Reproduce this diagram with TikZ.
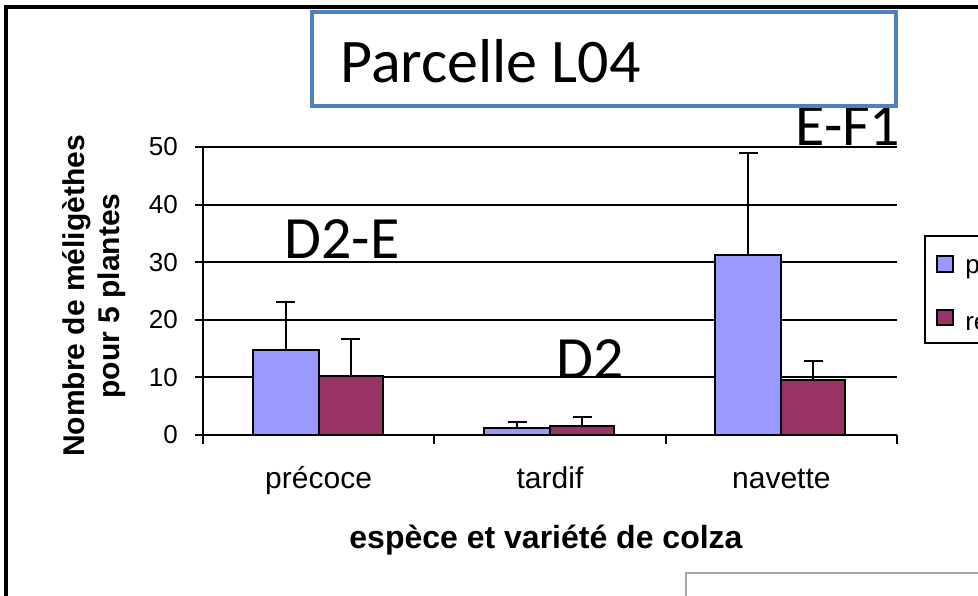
\documentclass[tikz,border=0pt]{standalone}
\usepackage{fontspec}
\setmainfont{Liberation Sans}
\newfontfamily\calibri{Carlito}
\definecolor{serieA}{HTML}{9999FF}
\definecolor{serieB}{HTML}{993366}
\definecolor{cadre}{HTML}{4F81BD}

\begin{document}
\begin{tikzpicture}[x=0.75pt,y=-0.75pt,
	trait/.style={line width=1.5pt},
	barre/.style={draw=black,line width=1.5pt},
	grosmot/.style={font=\calibri\fontsize{45}{50}\selectfont,inner sep=0pt,anchor=base},
	axelab/.style={font=\fontsize{19.5}{23}\selectfont,inner sep=0pt}]
\useasboundingbox (0,0) rectangle (978,596);
\draw[line width=3pt] (5.5,620) -- (5.5,7) -- (990,7);

% graphique : origine en (203,435), 10 unites = 57.6 px
\begin{scope}[shift={(203,435)},x=0.75pt,y=4.32pt]
\foreach \v in {10,20,...,50}
	\draw[trait] (-8,\v) -- (694,\v);
\foreach \v in {0,10,...,50}
	\node[axelab,anchor=east] (tick\v) at (-25,\v) {\v};
\draw[trait] (0,50) -- (0,0);
\draw[trait] (-8,0) -- (694,0);
\foreach \i in {0,1,2,3}
	\draw[trait] (231.3*\i,0) -- (231.3*\i,-1.5);
\foreach \c/\a/\ea/\b/\eb in {115.6/14.8/23.1/10.2/16.7, 347/1.3/2.2/1.6/3.2, 578.4/31.3/48.9/9.5/12.8}
{
	\filldraw[barre,fill=serieA] (\c-66,0) rectangle (\c,\a);
	\filldraw[barre,fill=serieB] (\c,0) rectangle (\c+64,\b);
	\draw[trait] (\c-33,\a) -- (\c-33,\ea) (\c-42.5,\ea) -- (\c-23.5,\ea);
	\draw[trait] (\c+32,\b) -- (\c+32,\eb) (\c+22.5,\eb) -- (\c+41.5,\eb);
}
\end{scope}

\node[font=\fontsize{22.5}{26}\selectfont,anchor=base] (cat1) at (318.6,488) {précoce};
\node[font=\fontsize{22.5}{26}\selectfont,anchor=base] (cat2) at (550,488) {tardif};
\node[font=\fontsize{22.5}{26}\selectfont,anchor=base] (cat3) at (781.4,488) {navette};
\node[font=\bfseries\fontsize{24}{28}\selectfont,anchor=base] (xtitre) at (546,548) {espèce et variété de colza};
\node[font=\bfseries\fontsize{22.5}{26}\selectfont,rotate=90,align=center] (ytitre) at (94,296) {Nombre de méligèthes\\pour 5 plantes};

% stades
\node[grosmot] (stade1) at (342,258) {D2-E};
\node[grosmot] (stade2) at (590,378) {D2};
\node[grosmot] (stade3) at (848,145) {E-F1};

% titre
\draw[draw=cadre,line width=2.6pt,fill=white] (312,12) rectangle (896,106);
\node[font=\calibri\fontsize{46.5}{50}\selectfont,inner sep=0pt,anchor=base west] (titre) at (340,82) {Parcelle L04};

% legende
\draw[trait] (925,236) rectangle (1000,343);
\filldraw[trait,fill=serieA] (937,256) rectangle (953,272);
\filldraw[trait,fill=serieB] (937,310) rectangle (953,325);
\node[axelab,anchor=base west] (leg1) at (965,273) {p};
\node[axelab,anchor=base west] (leg2) at (965,330) {re};

% zone de texte en bas
\draw[gray!70,line width=1.5pt] (686,620) -- (686,573) -- (1000,573);
\end{tikzpicture}
\end{document}
